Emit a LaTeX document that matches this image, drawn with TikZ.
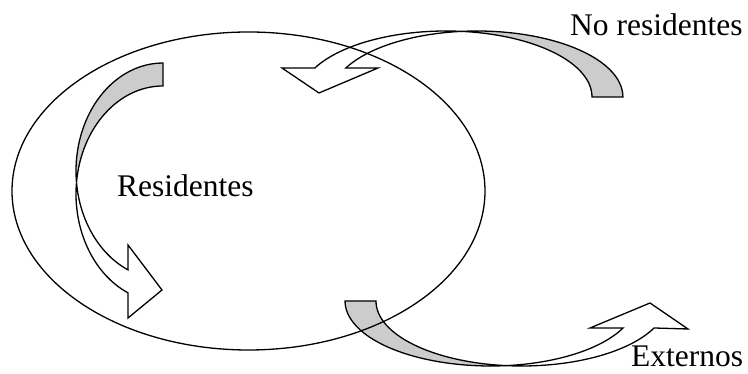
\documentclass[tikz,border=0pt]{standalone}
\usepackage{fontspec}
\setmainfont{Liberation Serif}
\begin{document}
\begin{tikzpicture}[x=1pt,y=1pt,
  outline/.style={draw=black,line width=1.3pt,line join=miter},
  backface/.style={outline,fill=black!20},
  frontface/.style={outline,fill=white},
  lbl/.style={anchor=base west,inner sep=0pt,font=\fontsize{31.5}{36}\selectfont}]
\useasboundingbox (0,0) rectangle (748,374);
% left arrow (Residentes)
\path[backface] (163,311) arc[start angle=90,end angle=186.11,x radius=87pt,y radius=108pt]
  arc[start angle=173.89,end angle=90,x radius=87pt,y radius=108pt] -- cycle;
\path[frontface] ([shift={(163,203)}]186.11:87pt and 108pt)
  arc[start angle=186.11,end angle=246.28,x radius=87pt,y radius=108pt]
  -- (128,129) -- (162,84) -- (128,56)
  -- ([shift={(163,180)}]246.28:87pt and 108pt)
  arc[start angle=246.28,end angle=173.89,x radius=87pt,y radius=108pt] -- cycle;
% top arrow (No residentes)
\path[backface] (592,277) arc[start angle=0,end angle=83.91,x radius=146pt,y radius=66pt]
  arc[start angle=96.09,end angle=0,x radius=146pt,y radius=66pt] -- cycle;
\path[frontface] ([shift={(446,277)}]83.91:146pt and 66pt)
  arc[start angle=83.91,end angle=153.93,x radius=146pt,y radius=66pt]
  -- (282,306) -- (319,281) -- (378,306)
  -- ([shift={(477,277)}]153.93:146pt and 66pt)
  arc[start angle=153.93,end angle=96.09,x radius=146pt,y radius=66pt] -- cycle;
% bottom arrow (Externos)
\path[backface] (345,73) arc[start angle=180,end angle=276.11,x radius=145.6pt,y radius=65pt]
  arc[start angle=263.89,end angle=180,x radius=145.6pt,y radius=65pt] -- cycle;
\path[frontface] ([shift={(490.6,73)}]276.11:145.6pt and 65pt)
  arc[start angle=276.11,end angle=335.46,x radius=145.6pt,y radius=65pt]
  -- (590,46) -- (650,71) -- (688,45)
  -- ([shift={(521.6,73)}]335.46:145.6pt and 65pt)
  arc[start angle=335.46,end angle=263.89,x radius=145.6pt,y radius=65pt] -- cycle;
% big ellipse
\draw[outline] (248.5,183) ellipse [x radius=236.5pt,y radius=159pt];
% labels
\node[lbl] (res) at (117,177) {Residentes};
\node[lbl] (nores) at (570,338) {No residentes};
\node[lbl] (ext) at (631,7) {Externos};
\end{tikzpicture}
\end{document}
